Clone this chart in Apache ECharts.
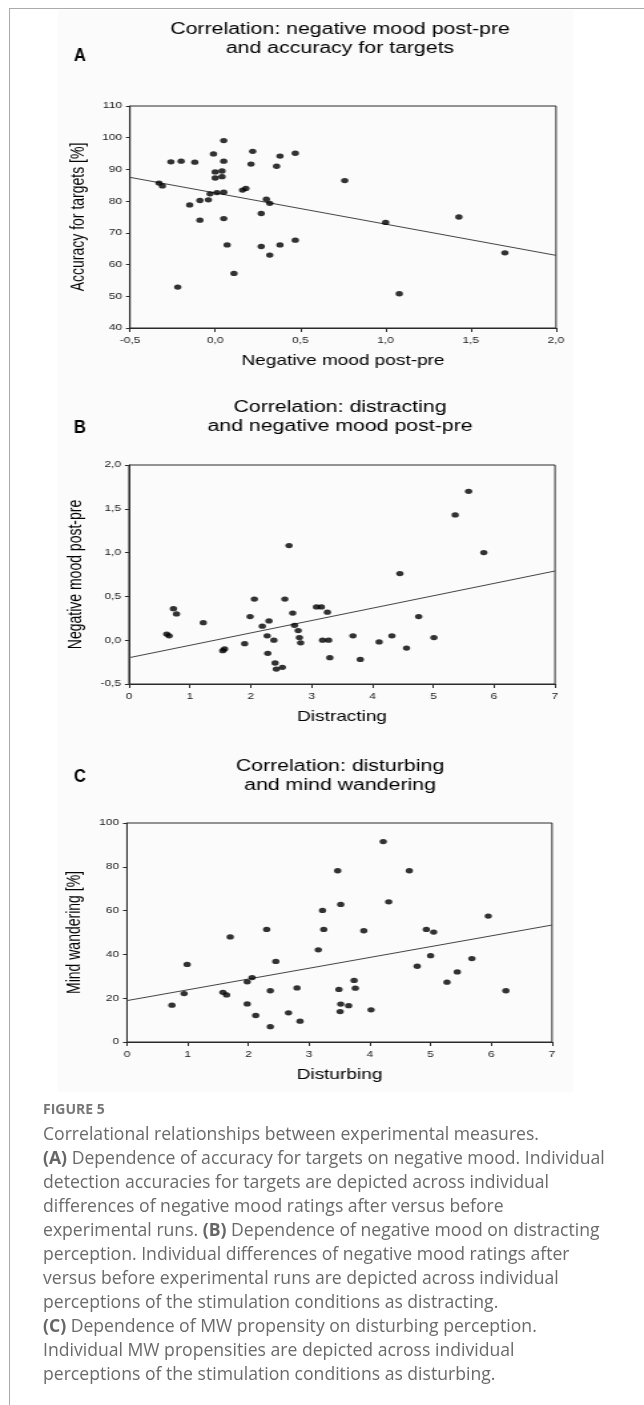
<!DOCTYPE html>
<html>
<head>
<meta charset="utf-8">
<script src="https://cdn.jsdelivr.net/npm/echarts@6/dist/echarts.min.js"></script>
<style>
html,body{margin:0;padding:0;background:#fff;}
#wrap{position:relative;width:644px;height:1405px;overflow:hidden;}
#chart{position:absolute;left:0;top:0;width:484px;height:1405px;transform-origin:0 0;transform:scaleX(1.3306);}
#frameTop{position:absolute;left:9px;top:8px;width:640px;height:0;border-top:1.5px solid #ababab;}
#frameLeft{position:absolute;left:9px;top:8px;width:0;height:1400px;border-left:1.5px solid #ababab;}
#caption{position:absolute;left:43px;top:1097px;font-family:"Open Sans",Lato,sans-serif;color:#6a6a6a;white-space:nowrap;}
#caption .fig{font-weight:700;font-size:14px;line-height:24px;color:#777;}
#caption .body{font-size:17.6px;line-height:24px;}
#caption b{font-weight:700;color:#666;}
</style>
</head>
<body>
<div id="wrap">
<div id="chart"></div>
<div id="frameTop"></div>
<div id="frameLeft"></div>
<div id="caption">
<div class="fig">FIGURE 5</div>
<div class="body">
Correlational relationships between experimental measures.<br>
<b>(A)</b> Dependence of accuracy for targets on negative mood. Individual<br>
detection accuracies for targets are depicted across individual<br>
differences of negative mood ratings after versus before<br>
experimental runs. <b>(B)</b> Dependence of negative mood on distracting<br>
perception. Individual differences of negative mood ratings after<br>
versus before experimental runs are depicted across individual<br>
perceptions of the stimulation conditions as distracting.<br>
<b>(C)</b> Dependence of MW propensity on disturbing perception.<br>
Individual MW propensities are depicted across individual<br>
perceptions of the stimulation conditions as disturbing.
</div>
</div>
</div>
<script>
// ---- Panel A: negative mood post-pre (x) vs accuracy for targets (y)
var moodA = [-0.33,-0.31,-0.26,-0.20,-0.12,-0.22,-0.15,-0.09,-0.09,-0.04,-0.03,-0.01,0.00,0.00,0.01,0.04,0.04,0.05,0.05,0.05,0.05,0.07,0.11,0.16,0.18,0.22,0.21,0.27,0.27,0.30,0.32,0.32,0.36,0.38,0.38,0.47,0.47,0.76,1.00,1.08,1.43,1.70];
var accA  = [85.7,84.8,92.4,92.6,92.3,52.9,78.8,80.2,74.0,80.4,82.3,94.9,89.2,87.3,82.7,89.5,87.7,99.1,92.6,82.8,74.5,66.2,57.2,83.5,84.0,95.7,91.7,76.1,65.7,80.6,79.3,63.0,91.0,94.2,66.2,95.1,67.7,86.5,73.3,50.8,75.0,63.7];
var fitA  = [[-0.5,87.5],[2.0,62.9]];

// ---- Panel B: distracting (x) vs negative mood post-pre (y)
var distB = [0.62,0.66,0.73,0.78,1.22,1.54,1.57,1.90,1.99,2.06,2.19,2.30,2.27,2.38,2.28,2.40,2.42,2.52,2.56,2.63,2.69,2.72,2.78,2.80,2.82,3.08,3.16,3.26,3.18,3.28,3.30,3.68,3.80,4.11,4.32,4.45,4.56,4.76,5.01,5.36,5.58,5.83];
var moodB = [0.07,0.05,0.36,0.30,0.20,-0.12,-0.10,-0.04,0.27,0.47,0.16,0.22,0.05,0.00,-0.15,-0.26,-0.33,-0.31,0.47,1.08,0.31,0.17,0.11,0.03,-0.03,0.38,0.38,0.32,0.00,0.00,-0.20,0.05,-0.22,-0.02,0.05,0.76,-0.09,0.27,0.03,1.43,1.70,1.00];
var fitB  = [[0,-0.20],[7,0.79]];

// ---- Panel C: disturbing (x) vs mind wandering (y)
var distC = [0.74,0.94,0.99,1.58,1.64,1.70,1.98,2.06,1.98,2.12,2.30,2.36,2.45,2.36,2.66,2.80,2.85,3.15,3.22,3.24,3.47,3.52,3.49,3.52,3.51,3.65,3.74,3.76,3.90,4.02,4.22,4.31,4.65,4.78,4.93,5.05,5.00,5.27,5.44,5.68,5.95,6.24];
var mwC   = [16.8,22.1,35.4,22.7,21.5,48.0,27.5,29.4,17.4,12.1,51.4,23.4,36.8,7.0,13.3,24.7,9.5,42.1,60.1,51.4,78.2,62.8,24.0,17.3,13.9,16.6,28.1,24.6,50.8,14.7,91.5,64.0,78.2,34.6,51.4,50.2,39.4,27.3,32.0,38.1,57.5,23.4];
var fitC  = [[0,18.9],[7,53.4]];

// ---- tick settings
var ticksA = {xmin:-0.5,xmax:2.0,xint:0.5,ymin:40,ymax:110,yint:10};
var ticksB = {xmin:0,xmax:7,xint:1,ymin:-0.5,ymax:2.0,yint:0.5};
var ticksC = {xmin:0,xmax:7,xint:1,ymin:0,ymax:100,yint:20};

// the original figure is horizontally stretched; the chart canvas is drawn narrower and widened by CSS
var S = 1.3306;
function px(v){return v/S;}

function zip(a,b){var r=[];for(var i=0;i<a.length;i++)r.push([a[i],b[i]]);return r;}
function comma1(v){return v.toFixed(1).replace('.',',');}
function plain(v){return String(Math.round(v));}

var AX = '#2a2a2a';
var SANS = '"Liberation Sans", Arial, sans-serif';

function xAx(g,t,name,fmt){
  return {type:'value',gridIndex:g,min:t.xmin,max:t.xmax,interval:t.xint,
    name:name,nameLocation:'middle',nameGap:26,
    nameTextStyle:{fontFamily:SANS,fontSize:14.3,color:'#000'},
    axisLine:{show:true,onZero:false,lineStyle:{color:AX,width:1}},
    axisTick:{show:true,inside:false,length:4,lineStyle:{color:AX}},
    axisLabel:{fontFamily:SANS,fontSize:9,color:'#222',margin:8,formatter:fmt},
    splitLine:{show:false}};
}
function yAx(g,t,name,fmt){
  return {type:'value',gridIndex:g,min:t.ymin,max:t.ymax,interval:t.yint,
    name:name,nameLocation:'middle',nameGap:29,
    nameTextStyle:{fontFamily:SANS,fontSize:14,color:'#000'},
    axisLine:{show:true,onZero:false,lineStyle:{color:AX,width:1}},
    axisTick:{show:true,inside:false,length:3,lineStyle:{color:AX}},
    axisLabel:{fontFamily:SANS,fontSize:9,color:'#222',margin:6,formatter:fmt},
    splitLine:{show:false}};
}
function scat(g,data){
  return {type:'scatter',xAxisIndex:g,yAxisIndex:g,data:data,symbol:'circle',
    symbolSize:[5.5,5.3],itemStyle:{color:'#000'},silent:true,z:3};
}
function fit(g,data){
  return {type:'line',xAxisIndex:g,yAxisIndex:g,data:data,symbol:'none',
    lineStyle:{color:'#444',width:1},silent:true,z:2};
}
function txt(x,y,text,font,sx){
  return {type:'text',x:x,y:y,scaleX:sx||1,silent:true,style:{text:text,font:font,fill:'#000',
    align:'center',verticalAlign:'middle',lineHeight:18.5}};
}

var chart = echarts.init(document.getElementById('chart'),null,{renderer:'canvas'});
chart.setOption({
  animation:false,
  backgroundColor:'transparent',
  grid:[
    {left:px(130),top:106,width:px(426),height:222,show:true,borderColor:AX,borderWidth:1,backgroundColor:'transparent'},
    {left:px(129),top:465,width:px(426),height:219,show:true,borderColor:AX,borderWidth:1,backgroundColor:'transparent'},
    {left:px(127),top:823,width:px(425),height:219,show:true,borderColor:AX,borderWidth:1,backgroundColor:'transparent'}
  ],
  xAxis:[
    xAx(0,ticksA,'Negative mood post-pre',comma1),
    xAx(1,ticksB,'Distracting',plain),
    xAx(2,ticksC,'Disturbing',plain)
  ],
  yAxis:[
    yAx(0,ticksA,'Accuracy for targets [%]',plain),
    yAx(1,ticksB,'Negative mood post-pre',comma1),
    yAx(2,ticksC,'Mind wandering [%]',plain)
  ],
  series:[
    fit(0,fitA), scat(0,zip(moodA,accA)),
    fit(1,fitB), scat(1,zip(distB,moodB)),
    fit(2,fitC), scat(2,zip(distC,mwC))
  ],
  graphic:[
    {type:'rect',shape:{x:px(58),y:10,width:px(515),height:1082},style:{fill:'#fbfbfb'},z:-10,silent:true},
    txt(px(340),39,'Correlation: negative mood post-pre\nand accuracy for targets','16px '+SANS),
    txt(px(80),56,'A','bold 19px '+SANS,0.66),
    txt(px(340),417,'Correlation: distracting\nand negative mood post-pre','16px '+SANS),
    txt(px(80),428,'B','bold 19px '+SANS,0.66),
    txt(px(340),776,'Correlation: disturbing\nand mind wandering','16px '+SANS),
    txt(px(80),777,'C','bold 19px '+SANS,0.66)
  ]
});
</script>
</body>
</html>
